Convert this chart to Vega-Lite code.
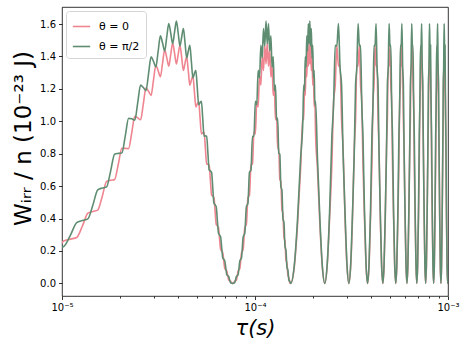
{
"$schema":"https://vega.github.io/schema/vega-lite/v6.json",
"width":386,"height":289,"autosize":"none",
"padding":{"left":62,"top":7,"right":21,"bottom":53},
"config":{"font":"DejaVu Sans","view":{"stroke":"#000","strokeWidth":0.8},
"axis":{"domain":false,"grid":false,"tickColor":"#000","tickWidth":0.8,"tickSize":3.5,"labelColor":"#000","labelFontSize":10,"labelFont":"DejaVu Sans","titleColor":"#000","titleFont":"DejaVu Sans","titleFontWeight":"normal"},
"legend":{"orient":"top-left","offset":4,"padding":6,"strokeColor":"#d5d5d5","fillColor":"white","cornerRadius":3,"symbolType":"stroke","symbolSize":300,"symbolStrokeWidth":1.6,"labelFontSize":11,"labelColor":"#000","rowPadding":5,"labelOffset":8}},
"data":{"values":[
{"t":9.362,"p":0.199,"g":0.218},{"t":10.213,"p":0.261,"g":0.228},{"t":11.065,"p":0.273,"g":0.298},{"t":11.916,"p":0.283,"g":0.375},{"t":12.767,"p":0.355,"g":0.388},{"t":13.618,"p":0.433,"g":0.398},{"t":14.469,"p":0.444,"g":0.485},{"t":15.32,"p":0.452,"g":0.577},{"t":16.171,"p":0.538,"g":0.588},{"t":17.022,"p":0.629,"g":0.595},{"t":17.874,"p":0.636,"g":0.694},{"t":18.725,"p":0.64,"g":0.797},{"t":19.576,"p":0.735,"g":0.802},{"t":20.427,"p":0.833,"g":0.804},{"t":21.278,"p":0.833,"g":0.91},{"t":22.129,"p":0.831,"g":1.018},{"t":22.98,"p":0.929,"g":1.015},{"t":23.831,"p":1.03,"g":1.007},{"t":24.682,"p":1.021,"g":1.115},{"t":25.534,"p":1.009,"g":1.223},{"t":26.385,"p":1.107,"g":1.208},{"t":27.236,"p":1.206,"g":1.189},{"t":28.087,"p":1.185,"g":1.294},{"t":28.938,"p":1.16,"g":1.397},{"t":29.789,"p":1.254,"g":1.369},{"t":30.64,"p":1.346,"g":1.335},{"t":31.491,"p":1.312,"g":1.432},{"t":32.343,"p":1.274,"g":1.527},{"t":33.194,"p":1.359,"g":1.483},{"t":34.045,"p":1.441,"g":1.434},{"t":34.896,"p":1.393,"g":1.52},{"t":35.747,"p":1.34,"g":1.603},{"t":36.598,"p":1.413,"g":1.543},{"t":37.449,"p":1.483,"g":1.478},{"t":38.3,"p":1.42,"g":1.55},{"t":39.152,"p":1.353,"g":1.618},{"t":40.003,"p":1.413,"g":1.543},{"t":40.854,"p":1.469,"g":1.464},{"t":41.705,"p":1.393,"g":1.52},{"t":42.556,"p":1.313,"g":1.572},{"t":43.407,"p":1.359,"g":1.483},{"t":44.258,"p":1.4,"g":1.391},{"t":45.109,"p":1.312,"g":1.432},{"t":45.96,"p":1.223,"g":1.469},{"t":46.812,"p":1.254,"g":1.369},{"t":47.663,"p":1.281,"g":1.268},{"t":48.514,"p":1.185,"g":1.294},{"t":49.365,"p":1.089,"g":1.315},{"t":50.216,"p":1.107,"g":1.208},{"t":51.067,"p":1.121,"g":1.102},{"t":51.918,"p":1.021,"g":1.115},{"t":52.769,"p":0.922,"g":1.123},{"t":53.62,"p":0.929,"g":1.015},{"t":54.472,"p":0.933,"g":0.907},{"t":55.323,"p":0.833,"g":0.91},
{"t":56.174,"p":0.736,"g":0.908},{"t":57.025,"p":0.735,"g":0.802},{"t":57.876,"p":0.73,"g":0.699},{"t":58.727,"p":0.636,"g":0.694},{"t":59.578,"p":0.545,"g":0.685},{"t":60.43,"p":0.538,"g":0.588},{"t":61.281,"p":0.529,"g":0.494},{"t":62.132,"p":0.444,"g":0.485},{"t":62.983,"p":0.364,"g":0.472},{"t":63.834,"p":0.355,"g":0.388},{"t":64.685,"p":0.344,"g":0.309},{"t":65.536,"p":0.273,"g":0.298},{"t":66.387,"p":0.209,"g":0.285},{"t":67.238,"p":0.199,"g":0.218},{"t":68.09,"p":0.188,"g":0.157},{"t":68.941,"p":0.136,"g":0.148},{"t":69.792,"p":0.09,"g":0.137},{"t":70.643,"p":0.083,"g":0.091},{"t":71.494,"p":0.075,"g":0.052},{"t":72.345,"p":0.043,"g":0.047},{"t":73.196,"p":0.019,"g":0.04},{"t":74.047,"p":0.016,"g":0.017},{"t":74.899,"p":0.011,"g":0.003},{"t":75.75,"p":0.002,"g":0.002},{"t":76.601,"p":0,"g":0},{"t":77.452,"p":0.002,"g":0.002},{"t":78.303,"p":0.011,"g":0.003},{"t":79.154,"p":0.016,"g":0.017},{"t":80.005,"p":0.019,"g":0.04},{"t":80.856,"p":0.043,"g":0.047},{"t":81.708,"p":0.075,"g":0.052},{"t":82.559,"p":0.083,"g":0.091},{"t":83.41,"p":0.09,"g":0.137},{"t":84.261,"p":0.136,"g":0.148},{"t":85.112,"p":0.188,"g":0.157},
{"t":86.814,"p":0.209,"g":0.285},{"t":88.516,"p":0.344,"g":0.309},{"t":90.219,"p":0.364,"g":0.472},{"t":91.921,"p":0.529,"g":0.494},{"t":93.623,"p":0.545,"g":0.685},{"t":95.325,"p":0.73,"g":0.699},{"t":97.028,"p":0.736,"g":0.908},{"t":98.73,"p":0.933,"g":0.907},{"t":100.432,"p":0.922,"g":1.123},{"t":102.134,"p":1.121,"g":1.102},{"t":103.837,"p":1.089,"g":1.315},{"t":105.539,"p":1.281,"g":1.268},{"t":107.241,"p":1.223,"g":1.469},{"t":108.943,"p":1.4,"g":1.391},{"t":110.646,"p":1.313,"g":1.572},{"t":112.348,"p":1.469,"g":1.464},{"t":114.05,"p":1.353,"g":1.618},{"t":115.752,"p":1.483,"g":1.478},{"t":117.455,"p":1.34,"g":1.603},{"t":119.157,"p":1.441,"g":1.434},{"t":120.859,"p":1.274,"g":1.527},{"t":122.561,"p":1.346,"g":1.335},{"t":124.264,"p":1.16,"g":1.397},{"t":125.966,"p":1.206,"g":1.189},{"t":127.668,"p":1.009,"g":1.223},{"t":129.37,"p":1.03,"g":1.007},{"t":131.072,"p":0.831,"g":1.018},{"t":132.775,"p":0.833,"g":0.804},{"t":134.477,"p":0.64,"g":0.797},{"t":136.179,"p":0.629,"g":0.595},{"t":137.881,"p":0.452,"g":0.577},{"t":139.584,"p":0.433,"g":0.398},{"t":141.286,"p":0.283,"g":0.375},{"t":142.988,"p":0.261,"g":0.228},{"t":144.69,"p":0.144,"g":0.205},{"t":146.393,"p":0.126,"g":0.099},{"t":148.095,"p":0.048,"g":0.082},{"t":149.797,"p":0.037,"g":0.02},{"t":151.499,"p":0.002,"g":0.012},
{"t":153.2,"p":0,"g":0},{"t":159.58,"p":0.095,"g":0.104},{"t":165.97,"p":0.355,"g":0.388},{"t":172.35,"p":0.71,"g":0.775},{"t":177.03,"p":1.03,"g":1.007},{"t":178.73,"p":1.009,"g":1.223},{"t":180.44,"p":1.206,"g":1.189},{"t":182.14,"p":1.16,"g":1.397},{"t":183.84,"p":1.346,"g":1.335},{"t":185.54,"p":1.274,"g":1.527},{"t":187.24,"p":1.441,"g":1.434},{"t":188.95,"p":1.34,"g":1.603},{"t":190.65,"p":1.483,"g":1.478},{"t":192.35,"p":1.353,"g":1.618},{"t":194.05,"p":1.469,"g":1.464},{"t":195.76,"p":1.313,"g":1.572},{"t":197.46,"p":1.4,"g":1.391},{"t":199.16,"p":1.223,"g":1.469},{"t":200.86,"p":1.281,"g":1.268},{"t":202.56,"p":1.089,"g":1.315},{"t":204.27,"p":1.121,"g":1.102},{"t":205.97,"p":0.922,"g":1.123},{"t":210.65,"p":0.71,"g":0.775},{"t":217.03,"p":0.355,"g":0.388},{"t":223.42,"p":0.095,"g":0.104},
{"t":229.8,"p":0,"g":0},{"t":236.61,"p":0.108,"g":0.118},{"t":243.42,"p":0.399,"g":0.435},{"t":250.23,"p":0.736,"g":0.908},{"t":255.33,"p":1.121,"g":1.102},{"t":260.44,"p":1.223,"g":1.469},{"t":265.55,"p":1.469,"g":1.464},{"t":270.65,"p":1.34,"g":1.603},{"t":275.76,"p":1.346,"g":1.335},{"t":280.87,"p":1.009,"g":1.223},{"t":285.97,"p":0.833,"g":0.804},{"t":292.78,"p":0.399,"g":0.435},{"t":299.59,"p":0.108,"g":0.118},
{"t":306.4,"p":0,"g":0},{"t":313.21,"p":0.108,"g":0.118},{"t":320.02,"p":0.399,"g":0.435},{"t":326.83,"p":0.833,"g":0.804},{"t":331.93,"p":1.009,"g":1.223},{"t":337.04,"p":1.346,"g":1.335},{"t":342.15,"p":1.34,"g":1.603},{"t":347.25,"p":1.469,"g":1.464},{"t":352.36,"p":1.223,"g":1.469},{"t":357.47,"p":1.121,"g":1.102},{"t":362.57,"p":0.736,"g":0.908},{"t":369.38,"p":0.399,"g":0.435},{"t":376.19,"p":0.108,"g":0.118},
{"t":383.0,"p":0,"g":0},{"t":389.81,"p":0.108,"g":0.118},{"t":396.62,"p":0.399,"g":0.435},{"t":403.43,"p":0.736,"g":0.908},{"t":408.53,"p":1.121,"g":1.102},{"t":413.64,"p":1.223,"g":1.469},{"t":418.75,"p":1.469,"g":1.464},{"t":423.85,"p":1.34,"g":1.603},{"t":428.96,"p":1.346,"g":1.335},{"t":434.07,"p":1.009,"g":1.223},{"t":439.17,"p":0.833,"g":0.804},{"t":445.98,"p":0.399,"g":0.435},{"t":452.79,"p":0.108,"g":0.118},
{"t":459.6,"p":0,"g":0},{"t":466.41,"p":0.108,"g":0.118},{"t":473.22,"p":0.399,"g":0.435},{"t":480.03,"p":0.833,"g":0.804},{"t":485.13,"p":1.009,"g":1.223},{"t":490.24,"p":1.346,"g":1.335},{"t":495.35,"p":1.34,"g":1.603},{"t":500.45,"p":1.469,"g":1.464},{"t":505.56,"p":1.223,"g":1.469},{"t":510.67,"p":1.121,"g":1.102},{"t":515.77,"p":0.736,"g":0.908},{"t":522.58,"p":0.399,"g":0.435},{"t":529.39,"p":0.108,"g":0.118},
{"t":536.2,"p":0,"g":0},{"t":543.01,"p":0.108,"g":0.118},{"t":549.82,"p":0.399,"g":0.435},{"t":556.63,"p":0.736,"g":0.908},{"t":561.73,"p":1.121,"g":1.102},{"t":566.84,"p":1.223,"g":1.469},{"t":571.95,"p":1.469,"g":1.464},{"t":577.05,"p":1.34,"g":1.603},{"t":582.16,"p":1.346,"g":1.335},{"t":587.27,"p":1.009,"g":1.223},{"t":592.37,"p":0.833,"g":0.804},{"t":599.18,"p":0.399,"g":0.435},{"t":605.99,"p":0.108,"g":0.118},
{"t":612.8,"p":0,"g":0},{"t":619.61,"p":0.108,"g":0.118},{"t":626.42,"p":0.399,"g":0.435},{"t":633.23,"p":0.833,"g":0.804},{"t":638.33,"p":1.009,"g":1.223},{"t":643.44,"p":1.346,"g":1.335},{"t":648.55,"p":1.34,"g":1.603},{"t":653.65,"p":1.469,"g":1.464},{"t":658.76,"p":1.223,"g":1.469},{"t":663.87,"p":1.121,"g":1.102},{"t":668.97,"p":0.736,"g":0.908},{"t":675.78,"p":0.399,"g":0.435},{"t":682.59,"p":0.108,"g":0.118},
{"t":689.4,"p":0,"g":0},{"t":696.21,"p":0.108,"g":0.118},{"t":703.02,"p":0.399,"g":0.435},{"t":709.83,"p":0.736,"g":0.908},{"t":714.93,"p":1.121,"g":1.102},{"t":720.04,"p":1.223,"g":1.469},{"t":725.15,"p":1.469,"g":1.464},{"t":730.25,"p":1.34,"g":1.603},{"t":735.36,"p":1.346,"g":1.335},{"t":740.47,"p":1.009,"g":1.223},{"t":745.57,"p":0.833,"g":0.804},{"t":752.38,"p":0.399,"g":0.435},{"t":759.19,"p":0.108,"g":0.118},
{"t":766.0,"p":0,"g":0},{"t":772.81,"p":0.108,"g":0.118},{"t":779.62,"p":0.399,"g":0.435},{"t":786.43,"p":0.833,"g":0.804},{"t":791.53,"p":1.009,"g":1.223},{"t":796.64,"p":1.346,"g":1.335},{"t":801.75,"p":1.34,"g":1.603},{"t":806.85,"p":1.469,"g":1.464},{"t":811.96,"p":1.223,"g":1.469},{"t":817.07,"p":1.121,"g":1.102},{"t":822.17,"p":0.736,"g":0.908},{"t":828.98,"p":0.399,"g":0.435},{"t":835.79,"p":0.108,"g":0.118},
{"t":842.6,"p":0,"g":0},{"t":849.41,"p":0.108,"g":0.118},{"t":856.22,"p":0.399,"g":0.435},{"t":863.03,"p":0.736,"g":0.908},{"t":868.13,"p":1.121,"g":1.102},{"t":873.24,"p":1.223,"g":1.469},{"t":878.35,"p":1.469,"g":1.464},{"t":883.45,"p":1.34,"g":1.603},{"t":888.56,"p":1.346,"g":1.335},{"t":893.67,"p":1.009,"g":1.223},{"t":898.77,"p":0.833,"g":0.804},{"t":905.58,"p":0.399,"g":0.435},{"t":912.39,"p":0.108,"g":0.118},
{"t":919.2,"p":0,"g":0},{"t":926.01,"p":0.108,"g":0.118},{"t":932.82,"p":0.399,"g":0.435},{"t":939.63,"p":0.833,"g":0.804},{"t":944.73,"p":1.009,"g":1.223},{"t":949.84,"p":1.346,"g":1.335},{"t":954.95,"p":1.34,"g":1.603},{"t":960.05,"p":1.469,"g":1.464},{"t":965.16,"p":1.223,"g":1.469},{"t":970.27,"p":1.121,"g":1.102},{"t":975.37,"p":0.736,"g":0.908},{"t":982.18,"p":0.399,"g":0.435},{"t":988.99,"p":0.108,"g":0.118},
{"t":995.8,"p":0,"g":0},{"t":1002.61,"p":0.108,"g":0.118}
]},
"resolve":{"axis":{"x":"independent"}},
"layer":[
{"mark":{"type":"line","strokeWidth":1.6,"interpolate":"monotone","clip":true},
"encoding":{
"x":{"field":"t","type":"quantitative","scale":{"type":"log","domain":[10,1000],"nice":false},
"axis":{"orient":"bottom","values":[10,100,1000],"labelExpr":"datum.value == 10 ? '10⁻⁵' : datum.value == 100 ? '10⁻⁴' : '10⁻³'","title":"τ(s)","titleFontSize":21,"titleFontStyle":"italic","titlePadding":5,"labelPadding":3,"tickSize":3.5,"labelFlush":false}},
"y":{"field":"p","type":"quantitative","scale":{"domain":[-0.078,1.705],"nice":false,"zero":false},
"axis":{"values":[0,0.2,0.4,0.6,0.8,1.0,1.2,1.4,1.6],"format":".1f","title":"Wᵢᵣᵣ  /  n   (10⁻²³ J)","titleFontSize":23,"titlePadding":4,"titleY":131,"labelPadding":3}},
"color":{"datum":"θ = 0","type":"nominal","scale":{"domain":["θ = 0","θ = π/2"],"range":["#ef8590","#5f8d72"]},"legend":{"title":null}}}},
{"mark":{"type":"line","strokeWidth":1.6,"interpolate":"monotone","clip":true},
"encoding":{
"x":{"field":"t","type":"quantitative","scale":{"type":"log","domain":[10,1000],"nice":false},
"axis":{"orient":"bottom","values":[20,30,40,50,60,70,80,90,200,300,400,500,600,700,800,900],"labels":false,"title":null,"tickSize":2}},
"y":{"field":"g","type":"quantitative","scale":{"domain":[-0.078,1.705],"nice":false,"zero":false},
"axis":{"values":[0,0.2,0.4,0.6,0.8,1.0,1.2,1.4,1.6],"format":".1f","title":"Wᵢᵣᵣ  /  n   (10⁻²³ J)","titleFontSize":23,"titlePadding":4,"titleY":131,"labelPadding":3}},
"color":{"datum":"θ = π/2","type":"nominal","scale":{"domain":["θ = 0","θ = π/2"],"range":["#ef8590","#5f8d72"]},"legend":{"title":null}}}}
]
}
